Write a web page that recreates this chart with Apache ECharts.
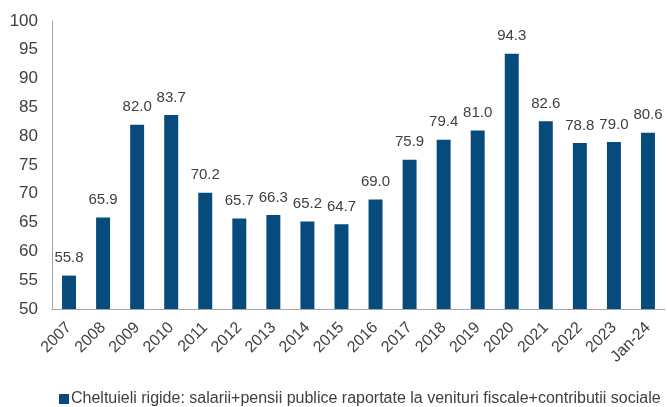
<!DOCTYPE html>
<html><head><meta charset="utf-8">
<script src="https://cdn.jsdelivr.net/npm/echarts@6/dist/echarts.min.js"></script>
<style>html,body{margin:0;padding:0;background:#fff}#c{width:667px;height:407px}</style>
</head><body><div id="c"></div>
<script>
const categories = ['2007','2008','2009','2010','2011','2012','2013','2014','2015','2016','2017','2018','2019','2020','2021','2022','2023','Jan-24'];
const values = [55.8,65.9,82.0,83.7,70.2,65.7,66.3,65.2,64.7,69.0,75.9,79.4,81.0,94.3,82.6,78.8,79.0,80.6];
const seriesName = 'Cheltuieli rigide: salarii+pensii publice raportate la venituri fiscale+contributii sociale';
const chart = echarts.init(document.getElementById('c'));
chart.setOption({
  animation:false,
  textStyle:{fontFamily:'Liberation Sans, Arial, sans-serif'},
  grid:{left:52,top:21,right:2,bottom:98},
  legend:{top:386,left:54,itemWidth:10,itemHeight:10,itemGap:4,icon:'rect',
    textStyle:{fontSize:16,color:'#404040',padding:[0,0,0,-3]}},
  xAxis:{type:'category',data:categories,
    axisLine:{lineStyle:{color:'#a6a6a6',width:1}},
    axisTick:{show:false},
    axisLabel:{rotate:45,fontSize:16,color:'#404040',margin:16,interval:0}},
  yAxis:{type:'value',min:50,max:100,interval:5,
    axisLine:{show:true,lineStyle:{color:'#a6a6a6'}},
    axisTick:{show:false},splitLine:{show:false},
    axisLabel:{fontSize:17,color:'#404040',margin:14}},
  series:[{name:seriesName,type:'bar',data:values,barWidth:'41%',
    itemStyle:{color:'#064b7c'},
    label:{show:true,position:'top',distance:10,fontSize:15,color:'#404040',
      formatter:p=>p.value.toFixed(1)}}]
});
</script></body></html>
